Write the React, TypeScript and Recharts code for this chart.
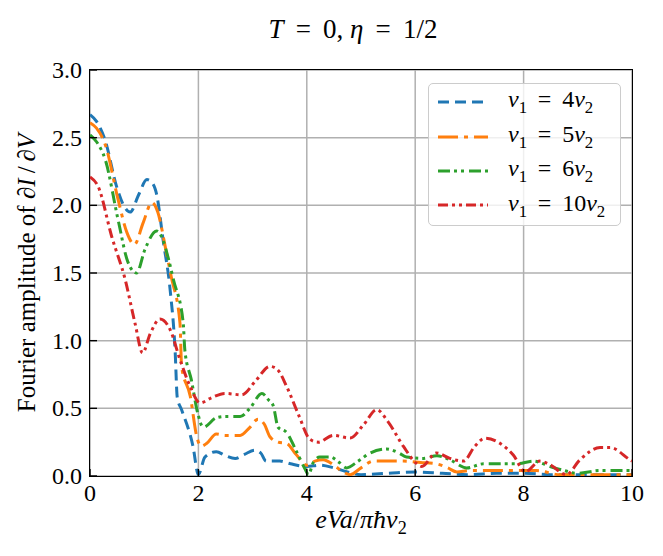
import React from 'react'
import { LineChart, Line, XAxis, YAxis, CartesianGrid, Legend } from 'recharts'

// values
const X_4 = [0, 0.12, 0.28, 0.49, 0.62, 0.74, 0.9, 1.05, 1.14, 1.23, 1.35, 1.48, 1.57, 1.61, 1.69, 1.9, 2.0, 2.12, 2.33, 2.5, 2.68, 2.85, 3.04, 3.15, 3.25, 3.5, 3.7, 4.0, 4.24, 4.5, 4.75, 5.0, 5.5, 6.0, 6.5, 7.0, 7.5, 8.0, 8.5, 9.0, 9.5, 10]
const Y_4 = [2.67, 2.62, 2.48, 2.14, 2.0, 1.95, 2.08, 2.19, 2.17, 2.08, 1.74, 1.37, 0.93, 0.58, 0.49, 0.22, 0.01, 0.14, 0.18, 0.15, 0.13, 0.16, 0.19, 0.17, 0.11, 0.11, 0.09, 0.07, 0.08, 0.06, 0.03, 0.01, 0.02, 0.03, 0.02, 0.01, 0.02, 0.02, 0.01, 0.01, 0.01, 0.01]

const X_5 = [0, 0.12, 0.28, 0.52, 0.68, 0.82, 0.98, 1.14, 1.25, 1.41, 1.5, 1.66, 1.69, 1.85, 1.97, 2.05, 2.15, 2.33, 2.49, 2.77, 2.95, 3.1, 3.22, 3.32, 3.47, 3.63, 3.8, 4.0, 4.15, 4.3, 4.5, 4.67, 4.8, 5.0, 5.23, 5.5, 5.78, 6.1, 6.39, 6.6, 6.77, 7.0, 7.4, 7.9, 8.24, 8.67, 9.0, 9.5, 10]
const Y_5 = [2.61, 2.57, 2.45, 2.04, 1.8, 1.71, 1.87, 2.02, 1.95, 1.65, 1.47, 1.13, 0.81, 0.59, 0.29, 0.22, 0.24, 0.31, 0.3, 0.3, 0.36, 0.42, 0.38, 0.29, 0.25, 0.24, 0.16, 0.08, 0.11, 0.12, 0.08, 0.03, 0.01, 0.06, 0.11, 0.11, 0.11, 0.1, 0.09, 0.06, 0.03, 0.04, 0.04, 0.04, 0.04, 0.01, 0.01, 0.01, 0.01]

const X_6 = [0, 0.12, 0.28, 0.52, 0.7, 0.86, 1.01, 1.23, 1.35, 1.45, 1.54, 1.72, 1.75, 1.87, 1.99, 2.09, 2.33, 2.49, 2.77, 2.95, 3.17, 3.3, 3.38, 3.47, 3.63, 3.8, 3.97, 4.03, 4.12, 4.24, 4.43, 4.6, 4.73, 4.95, 5.17, 5.47, 5.7, 5.84, 6.15, 6.4, 6.64, 6.95, 7.26, 7.6, 7.87, 8.18, 8.49, 8.75, 8.98, 9.41, 9.7, 10]
const Y_6 = [2.52, 2.47, 2.34, 1.89, 1.58, 1.5, 1.67, 1.81, 1.74, 1.6, 1.45, 1.13, 0.93, 0.71, 0.46, 0.36, 0.43, 0.44, 0.44, 0.5, 0.61, 0.56, 0.52, 0.36, 0.32, 0.19, 0.05, 0.01, 0.1, 0.14, 0.14, 0.1, 0.06, 0.11, 0.17, 0.2, 0.17, 0.14, 0.13, 0.15, 0.12, 0.06, 0.09, 0.09, 0.09, 0.11, 0.07, 0.04, 0.02, 0.04, 0.04, 0.04]

const X_10 = [0, 0.15, 0.4, 0.65, 0.83, 0.97, 1.11, 1.29, 1.48, 1.66, 1.85, 2.03, 2.25, 2.49, 2.8, 3.05, 3.32, 3.45, 3.63, 3.85, 4.06, 4.21, 4.49, 4.8, 5.05, 5.29, 5.5, 5.78, 6.03, 6.12, 6.39, 6.64, 6.89, 7.1, 7.29, 7.57, 7.81, 8.03, 8.3, 8.5, 8.79, 9.04, 9.41, 9.6, 9.96, 10]
const Y_10 = [2.21, 2.14, 1.77, 1.45, 1.13, 0.91, 1.05, 1.16, 1.08, 0.86, 0.66, 0.54, 0.58, 0.61, 0.6, 0.7, 0.81, 0.79, 0.66, 0.45, 0.27, 0.25, 0.3, 0.28, 0.38, 0.49, 0.4, 0.22, 0.09, 0.07, 0.17, 0.13, 0.11, 0.22, 0.28, 0.24, 0.155, 0.03, 0.11, 0.08, 0.01, 0.12, 0.21, 0.21, 0.12, 0.11]

const X_TICKS = [0, 2, 4, 6, 8, 10]
const Y_TICKS = [0, 0.5, 1, 1.5, 2, 2.5, 3]
const RATIOS = ['4', '5', '6', '10']

const zip = (xs: number[], ys: number[]) => xs.map((x, i) => ({ x, y: ys[i] }))

const SERIES = [
  { ratio: RATIOS[0], data: zip(X_4, Y_4), color: '#1f77b4', dash: '11 6' },
  { ratio: RATIOS[1], data: zip(X_5, Y_5), color: '#ff7f0e', dash: '20 6 4 6' },
  { ratio: RATIOS[2], data: zip(X_6, Y_6), color: '#2ca02c', dash: '12 4 3 4 3 5' },
  { ratio: RATIOS[3], data: zip(X_10, Y_10), color: '#d62728', dash: '10 4 3 4 3 4' },
]

const FONT = 'Liberation Serif, DejaVu Serif, serif'
const EQ = '\u2009=\u2009' // roomier "=" like mathtext

function XTick({ x, y, payload }: any) {
  return (
    <g>
      <line x1={x} x2={x} y1={y} y2={y - 7} stroke="#000" strokeWidth={1.4} />
      <text x={x} y={y + 25} textAnchor="middle" fontSize={24} fontFamily={FONT} fill="#000">
        {payload.value}
      </text>
    </g>
  )
}

function YTick({ x, y, payload }: any) {
  return (
    <g>
      <line x1={x} x2={x + 7} y1={y} y2={y} stroke="#000" strokeWidth={1.4} />
      <text x={x - 8} y={y + 8} textAnchor="end" fontSize={24} fontFamily={FONT} fill="#000">
        {payload.value.toFixed(1)}
      </text>
    </g>
  )
}

function V1Label({ ratio }: { ratio: string }) {
  return (
    <span>
      <i>v</i>
      <sub style={{ fontSize: '0.7em' }}>1</sub>
      {` ${EQ} `}
      {ratio}
      <i>v</i>
      <sub style={{ fontSize: '0.7em' }}>2</sub>
    </span>
  )
}

function LegendBox() {
  return (
    <div
      style={{
        boxSizing: 'border-box',
        width: 193,
        height: 143,
        background: 'rgba(255,255,255,0.8)',
        border: '1px solid #cccccc',
        borderRadius: 5,
        padding: '1px 0 0 9px',
        fontFamily: FONT,
        fontSize: 24,
        lineHeight: 1,
      }}
    >
      {SERIES.map((s) => (
        <div key={s.ratio} style={{ display: 'flex', alignItems: 'center', height: 34.4 }}>
          <svg width={50} height={6} style={{ marginRight: 20, flex: 'none' }}>
            <line x1={0} x2={50} y1={3} y2={3} stroke={s.color} strokeWidth={3} strokeDasharray={s.dash} />
          </svg>
          <V1Label ratio={s.ratio} />
        </div>
      ))}
    </div>
  )
}

export default function App() {
  return (
    <div style={{ position: 'absolute', left: 0, top: 0, width: 663, height: 556, background: '#fff', fontFamily: FONT }}>
      <div style={{ position: 'absolute', left: 153, top: 14, width: 400, textAlign: 'center', fontSize: 27 }}>
        <i>T</i>{` ${EQ} `}0, <i>η</i>{` ${EQ} `}1/2
      </div>

      <LineChart width={663} height={556} margin={{ top: 70, right: 31, bottom: 50, left: 30 }}>
        <CartesianGrid stroke="#b0b0b0" strokeWidth={1.5} />
        <XAxis
          dataKey="x"
          type="number"
          domain={[0, 10]}
          ticks={X_TICKS}
          height={30}
          axisLine={false}
          tickLine={false}
          tickSize={0}
          tickMargin={0}
          tick={<XTick />}
          allowDataOverflow
        />
        <YAxis
          type="number"
          domain={[0, 3]}
          ticks={Y_TICKS}
          width={60}
          axisLine={false}
          tickLine={false}
          tickSize={0}
          tickMargin={0}
          tick={<YTick />}
          allowDataOverflow
        />
        {SERIES.map((s) => (
          <Line
            key={s.ratio}
            data={s.data}
            dataKey="y"
            type="monotone"
            stroke={s.color}
            strokeWidth={3}
            strokeDasharray={s.dash}
            dot={false}
            activeDot={false}
            isAnimationActive={false}
          />
        ))}
        <Legend
          layout="vertical"
          align="center"
          verticalAlign="middle"
          content={<LegendBox />}
          wrapperStyle={{ left: 428, top: 83, width: 193, height: 143 }}
        />
      </LineChart>

      {/* axes frame */}
      <div
        style={{
          position: 'absolute',
          left: 89,
          top: 69,
          width: 542,
          height: 406,
          border: '1.5px solid #000',
          pointerEvents: 'none',
        }}
      />

      <div style={{ position: 'absolute', left: 211, top: 505, width: 300, textAlign: 'center', fontSize: 26 }}>
        <i>eVa</i>/<i>π</i>
        <i>ħv</i>
        <sub style={{ fontSize: '0.7em' }}>2</sub>
      </div>

      <div
        style={{
          position: 'absolute',
          left: 27,
          top: 273,
          transform: 'translate(-50%, -50%) rotate(-90deg)',
          whiteSpace: 'nowrap',
          fontSize: 25,
        }}
      >
        Fourier amplitude of ∂<i>I</i>&thinsp;/&thinsp;∂<i>V</i>
      </div>
    </div>
  )
}
